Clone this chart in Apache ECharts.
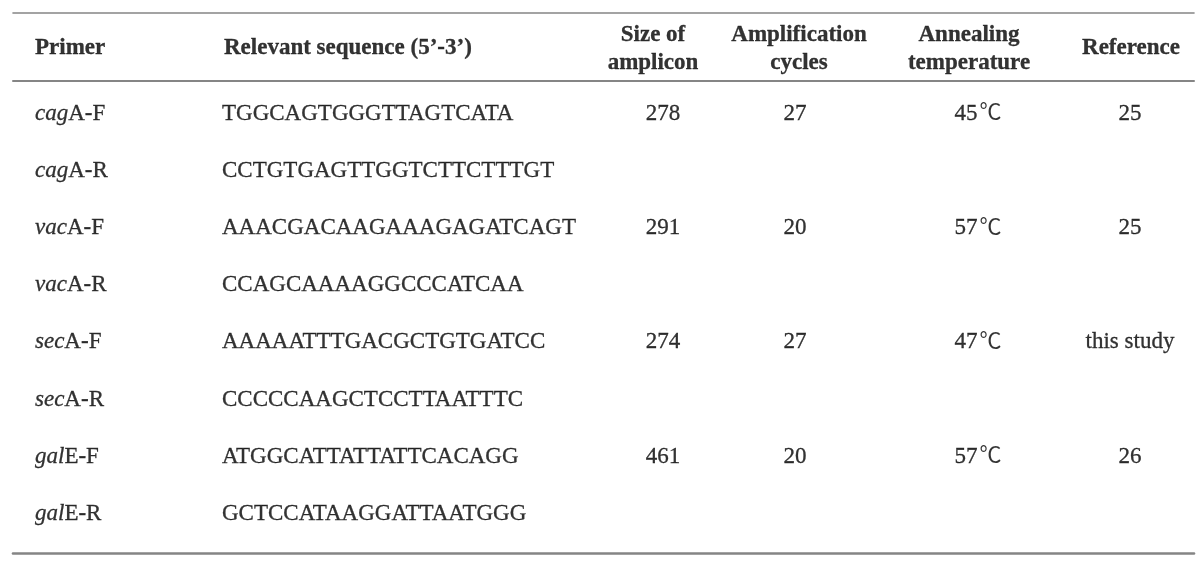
<!DOCTYPE html>
<html>
<head>
<meta charset="utf-8">
<title>Primers</title>
<script src="https://cdn.jsdelivr.net/npm/echarts@6/dist/echarts.min.js"></script>
<style>
  html, body { margin: 0; padding: 0; background: #fff; }
  #main { width: 1200px; height: 561px; }
</style>
</head>
<body>
<div id="main"></div>
<script>
// table data
var headers = ['Primer', 'Relevant sequence (5\u2019-3\u2019)', 'Size of\namplicon', 'Amplification\ncycles', 'Annealing\ntemperature', 'Reference'];
var primers = ['cagA-F', 'cagA-R', 'vacA-F', 'vacA-R', 'secA-F', 'secA-R', 'galE-F', 'galE-R'];
var sequences = ['TGGCAGTGGGTTAGTCATA', 'CCTGTGAGTTGGTCTTCTTTGT', 'AAACGACAAGAAAGAGATCAGT', 'CCAGCAAAAGGCCCATCAA',
  'AAAAATTTGACGCTGTGATCC', 'CCCCCAAGCTCCTTAATTTC', 'ATGGCATTATTATTCACAGG', 'GCTCCATAAGGATTAATGGG'];
var ampliconSize = [278, null, 291, null, 274, null, 461, null];
var cycles = [27, null, 20, null, 27, null, 20, null];
var annealTemp = [45, null, 57, null, 47, null, 57, null];
var references = ['25', null, '25', null, 'this study', null, '26', null];

// column layout (px on the x axis, which runs across the rule lines)
var headX = [35, 224, 653, 799, 969, 1131];
var cellX = [35, 222, 663, 795, 978, 1130];
var colAlign = ['left', 'left', 'center', 'center', 'center', 'center'];

var serif = "'Liberation Serif', 'Times New Roman', serif";
var cjk = "'Noto Sans CJK SC', 'Noto Sans CJK JP', sans-serif";
var lineColor = '#858585';
var fs = 23;

var myChart = echarts.init(document.getElementById('main'), null, { renderer: 'canvas' });

function hiddenX(gridIndex, position, width, offset) {
  return {
    type: 'value', gridIndex: gridIndex, position: position, offset: offset || 0,
    min: 13, max: 1194,
    axisLine: { show: true, lineStyle: { color: lineColor, width: width } },
    axisTick: { show: false }, axisLabel: { show: false }, splitLine: { show: false }
  };
}

function textCol(i, values, fmt) {
  var data = [];
  values.forEach(function (v, r) {
    if (v === null || v === undefined) return;
    data.push({ value: [cellX[i], r], txt: fmt ? fmt(v) : String(v) });
  });
  var txt = { fontFamily: serif, fontSize: fs, color: '#000', textBorderColor: '#000', textBorderWidth: 0.3, lineHeight: 28 };
  return {
    type: 'scatter', xAxisIndex: 2, yAxisIndex: 1, symbolSize: 0, silent: true,
    data: data,
    label: Object.assign({
      show: true, position: 'inside', align: colAlign[i], verticalAlign: 'middle',
      formatter: function (p) { return p.data.txt; },
      rich: {
        it: Object.assign({}, txt, { fontStyle: 'italic' }),
        n: Object.assign({}, txt),
        u: Object.assign({}, txt, { fontFamily: cjk, fontSize: fs - 1, textBorderWidth: 0, padding: [0, 0, 6, 2] })
      }
    }, txt)
  };
}

var headSeries = {
  type: 'scatter', xAxisIndex: 0, yAxisIndex: 0, symbolSize: 0, silent: true,
  data: headers.map(function (h, i) {
    return {
      value: [headX[i], 0], txt: h,
      label: { align: colAlign[i], offset: [0, h.indexOf('\n') > -1 ? 2 : 1] }
    };
  }),
  label: {
    show: true, position: 'inside', verticalAlign: 'middle',
    fontFamily: serif, fontSize: fs, fontWeight: 'bold', color: '#000', lineHeight: 28,
    textBorderColor: '#000', textBorderWidth: 0.3,
    formatter: function (p) { return p.data.txt; }
  }
};

var series = [headSeries,
  textCol(0, primers, function (p) {
    var m = p.match(/^([a-z]+)(.*)$/);
    return '{it|' + m[1] + '}{n|' + m[2] + '}';
  }),
  textCol(1, sequences),
  textCol(2, ampliconSize),
  textCol(3, cycles),
  textCol(4, annealTemp, function (t) { return '{n|' + t + '}{u|\u2103}'; }),
  textCol(5, references)
];

myChart.setOption({
  animation: false,
  backgroundColor: '#fff',
  grid: [
    { left: 13, right: 6, top: 13, height: 68 },
    { left: 13, right: 6, top: 85.5, height: 456.8 }
  ],
  xAxis: [
    hiddenX(0, 'top', 1.6),
    hiddenX(0, 'bottom', 2),
    hiddenX(1, 'bottom', 2.6, 11)
  ],
  yAxis: [
    { type: 'category', gridIndex: 0, data: ['head'], show: false },
    { type: 'category', gridIndex: 1, data: primers, inverse: true, show: false }
  ],
  series: series
});
</script>
</body>
</html>
